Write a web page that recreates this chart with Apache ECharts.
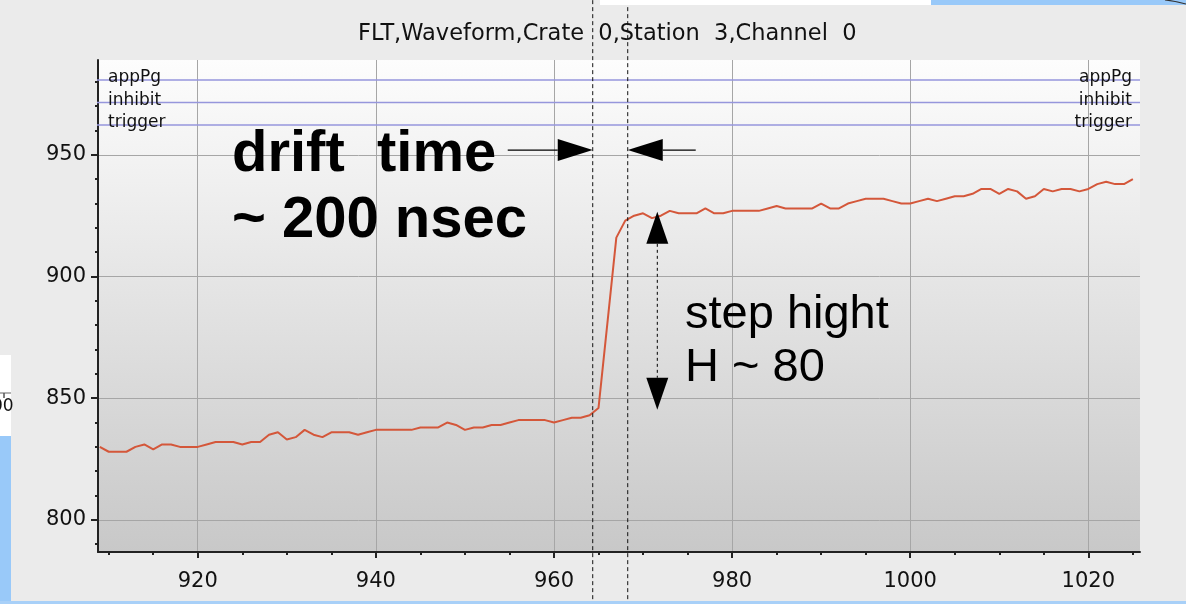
<!DOCTYPE html>
<html><head><meta charset="utf-8">
<script src="https://cdn.jsdelivr.net/npm/echarts@6/dist/echarts.min.js"></script>
<style>html,body{margin:0;padding:0;background:#ebebeb}#c{width:1186px;height:604px}</style>
</head><body><div id="c"></div>
<script>
// ---- data ----
const titleText = 'FLT,Waveform,Crate  0,Station  3,Channel  0';
const xStart = 909; // first sample index
const waveform = [
  830,828,828,828,830,831,829,831,831,830, // 909-918
  830,830,831,832,832,832,831,832,832,835, // 919-928
  836,833,834,837,835,834,836,836,836,835, // 929-938
  836,837,837,837,837,837,838,838,838,840, // 939-948
  839,837,838,838,839,839,840,841,841,841, // 949-958
  841,840,841,842,842,843,846,881,916,923, // 959-968
  925,926,924,925,927,926,926,926,928,926, // 969-978
  926,927,927,927,927,928,929,928,928,928, // 979-988
  928,930,928,928,930,931,932,932,932,931, // 989-998
  930,930,931,932,931,932,933,933,934,936, // 999-1008
  936,934,936,935,932,933,936,935,936,936, // 1009-1018
  935,936,938,939,938,938,940               // 1019-1025
];
const xMajorTicks = [920, 940, 960, 980, 1000, 1020];
const xMinorTicks = [910,915,920,925,930,935,940,945,950,955,960,965,970,975,980,985,990,995,1000,1005,1010,1015,1020,1025];
const yMajorTicks = [800, 850, 900, 950];
const yMinorTicks = [790,800,810,820,830,840,850,860,870,880,890,900,910,920,930,940,950,960,970,980];
const traceNames = ['appPg', 'inhibit', 'trigger'];
const traceLevels = [980.8, 971.5, 962.3];
const driftMarks = [964.35, 968.28];   // dashed vertical markers
const driftArrowLevel = 952;
const stepArrow = {x: 971.6, low: 845.3, high: 926.6};

const xMin = 908.8, xMax = 1025.8, yMin = 786.8, yMax = 989;
const traceFrom = 899.0;
const markTop = 1013.6, markBottom = 765.7;

const chart = echarts.init(document.getElementById('c'), null, {renderer: 'canvas'});
const lbl = {fontFamily: 'DejaVu Sans', fontSize: 21, color: '#111', formatter: v => String(v)};

const series = [];
traceLevels.forEach((v, i) => {
  series.push({type: 'line', name: traceNames[i], clip: false, silent: true, symbol: 'none', z: 1,
    lineStyle: {color: '#9696dc', width: 1.5}, data: [[traceFrom, v], [xMax, v]]});
});
series.push({type: 'line', name: 'waveform', symbol: 'none', z: 3,
  lineStyle: {color: '#d4573a', width: 2},
  data: waveform.map((v, i) => [xStart + i, v])});
driftMarks.forEach(x => {
  series.push({type: 'line', clip: false, silent: true, symbol: 'none', z: 4,
    lineStyle: {color: '#111', width: 1, type: [4, 3]}, data: [[x, markTop], [x, markBottom]]});
});

chart.setOption({
  animation: false,
  backgroundColor: '#ebebeb',
  title: {text: titleText, left: 353, top: 18,
    textStyle: {fontFamily: 'DejaVu Sans', fontWeight: 'normal', fontSize: 22.5, color: '#111'}},
  grid: {left: 98, right: 46, top: 60, bottom: 52, show: true, borderWidth: 0,
    backgroundColor: new echarts.graphic.LinearGradient(0, 0, 0, 1, [
      {offset: 0, color: '#fdfdfd'}, {offset: 1, color: '#c8c8c8'}])},
  xAxis: [
    {type: 'value', min: xMin, max: xMax, position: 'bottom',
      axisLine: {show: true, onZero: false, lineStyle: {color: '#222', width: 2}},
      axisTick: {customValues: xMajorTicks, length: 6, lineStyle: {color: '#222', width: 2}},
      axisLabel: Object.assign({customValues: xMajorTicks, margin: 19}, lbl),
      splitLine: {show: true, lineStyle: {color: '#a6a6a6', width: 1}}},
    {type: 'value', min: xMin, max: xMax, position: 'bottom',
      axisLine: {show: false, onZero: false},
      axisTick: {customValues: xMinorTicks, length: 3, lineStyle: {color: '#222', width: 2}},
      axisLabel: {show: false}, splitLine: {show: false}}
  ],
  yAxis: [
    {type: 'value', min: yMin, max: yMax, position: 'left',
      axisLine: {show: true, onZero: false, lineStyle: {color: '#222', width: 2}},
      axisTick: {customValues: yMajorTicks, length: 7, lineStyle: {color: '#222', width: 2}},
      axisLabel: Object.assign({customValues: yMajorTicks, margin: 12}, lbl),
      splitLine: {show: true, lineStyle: {color: '#a6a6a6', width: 1}}},
    {type: 'value', min: yMin, max: yMax, position: 'left',
      axisLine: {show: false, onZero: false},
      axisTick: {customValues: yMinorTicks, length: 3, lineStyle: {color: '#222', width: 2}},
      axisLabel: {show: false}, splitLine: {show: false}}
  ],
  series: series
});

// ---- annotations positioned through the axes ----
const px = (x, y) => chart.convertToPixel({xAxisIndex: 0, yAxisIndex: 0}, [x, y]);
const g = [];
// trace labels
const plotL = px(xMin, yMin)[0], plotR = px(xMax, yMin)[0];
traceLevels.forEach((v, i) => {
  const y = px(xMin, v)[1] - 2;
  const st = {text: traceNames[i], font: '17px "DejaVu Sans"', fill: '#111', textVerticalAlign: 'middle'};
  g.push({type: 'text', x: plotL + 10, y: y, z: 50, style: Object.assign({textAlign: 'left'}, st)});
  g.push({type: 'text', x: plotR - 8, y: y, z: 50, style: Object.assign({textAlign: 'right'}, st)});
});
// drift time arrows
const tipL = px(driftMarks[0], driftArrowLevel), tipR = px(driftMarks[1], driftArrowLevel);
const hl = 35, hw = 11;
g.push({type: 'polygon', z: 60, shape: {points: [[tipL[0], tipL[1]], [tipL[0] - hl, tipL[1] - hw], [tipL[0] - hl, tipL[1] + hw]]}, style: {fill: '#000'}});
g.push({type: 'line', z: 60, shape: {x1: tipL[0] - hl - 50, y1: tipL[1], x2: tipL[0] - hl, y2: tipL[1]}, style: {stroke: '#000', lineWidth: 1.2}});
g.push({type: 'polygon', z: 60, shape: {points: [[tipR[0], tipR[1]], [tipR[0] + hl, tipR[1] - hw], [tipR[0] + hl, tipR[1] + hw]]}, style: {fill: '#000'}});
g.push({type: 'line', z: 60, shape: {x1: tipR[0] + hl, y1: tipR[1], x2: tipR[0] + hl + 33, y2: tipR[1]}, style: {stroke: '#000', lineWidth: 1.2}});
// step height arrow
const up = px(stepArrow.x, stepArrow.high), dn = px(stepArrow.x, stepArrow.low);
const vl = 32;
g.push({type: 'polygon', z: 60, shape: {points: [[up[0], up[1]], [up[0] - hw, up[1] + vl], [up[0] + hw, up[1] + vl]]}, style: {fill: '#000'}});
g.push({type: 'polygon', z: 60, shape: {points: [[dn[0], dn[1]], [dn[0] - hw, dn[1] - vl], [dn[0] + hw, dn[1] - vl]]}, style: {fill: '#000'}});
g.push({type: 'line', z: 60, shape: {x1: up[0], y1: up[1] + vl, x2: dn[0], y2: dn[1] - vl}, style: {stroke: '#000', lineWidth: 1, lineDash: [3, 3]}});
// annotation texts
g.push({type: 'text', x: 232, y: 155, z: 60, style: {text: 'drift  time', font: 'bold 58px "Liberation Sans"', fill: '#000', textVerticalAlign: 'middle'}});
g.push({type: 'text', x: 232, y: 221, z: 60, style: {text: '~ 200 nsec', font: 'bold 58px "Liberation Sans"', fill: '#000', textVerticalAlign: 'middle'}});
g.push({type: 'text', x: 685, y: 315, z: 60, style: {text: 'step hight', font: '47px "Liberation Sans"', fill: '#000', textVerticalAlign: 'middle'}});
g.push({type: 'text', x: 685, y: 368, z: 60, style: {text: 'H ~ 80', font: '47px "Liberation Sans"', fill: '#000', textVerticalAlign: 'middle'}});
// screenshot edge artefacts
g.push({type: 'rect', z: 70, shape: {x: 0, y: 355, width: 11, height: 81}, style: {fill: '#ffffff'}});
g.push({type: 'line', z: 71, shape: {x1: 0, y1: 393, x2: 11, y2: 393}, style: {stroke: '#999', lineWidth: 1.5}});
g.push({type: 'line', z: 71, shape: {x1: 4, y1: 393, x2: 4, y2: 398}, style: {stroke: '#555', lineWidth: 1.5}});
g.push({type: 'text', x: -8, y: 407, z: 71, style: {text: '00', font: '17px "DejaVu Sans"', fill: '#111', textVerticalAlign: 'middle'}});
g.push({type: 'rect', z: 70, shape: {x: 0, y: 436, width: 11, height: 168}, style: {fill: '#99c9f9'}});
g.push({type: 'rect', z: 70, shape: {x: 0, y: 601, width: 1186, height: 3}, style: {fill: '#a8d0f8'}});
g.push({type: 'rect', z: 70, shape: {x: 600, y: 0, width: 331, height: 5}, style: {fill: '#ffffff'}});
g.push({type: 'rect', z: 70, shape: {x: 931, y: 0, width: 255, height: 5}, style: {fill: '#99c9f9'}});
g.push({type: 'bezierCurve', z: 71, shape: {x1: 1165, y1: 0, x2: 1186, y2: 4, cpx1: 1175, cpy1: 1}, style: {stroke: '#333', lineWidth: 1.2, fill: null}});
chart.setOption({graphic: g});
</script></body></html>
